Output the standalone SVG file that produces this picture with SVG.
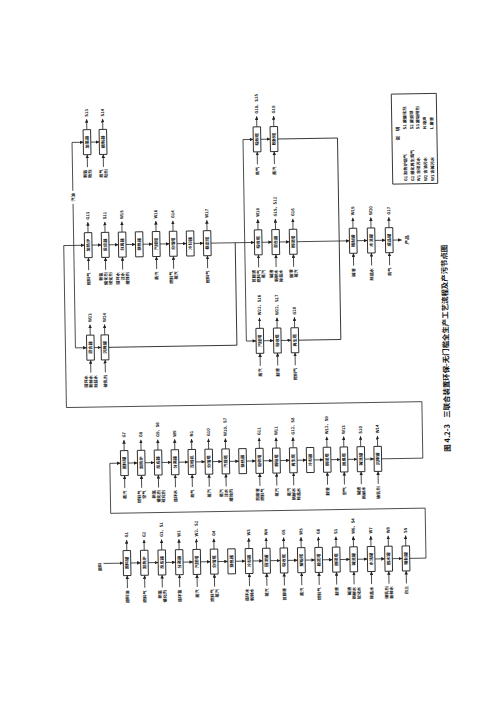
<svg xmlns="http://www.w3.org/2000/svg" width="500" height="707" viewBox="0 0 500 707">
<defs>
<marker id="ah" viewBox="0 0 6 6" refX="6" refY="3" markerWidth="3.6" markerHeight="3.6" markerUnits="userSpaceOnUse" orient="auto"><path d="M0,0L6,3L0,6z" fill="#222"/></marker>
<style>
.bx{fill:#fff;stroke:#1a1a1a;stroke-width:0.9}
.ln{fill:none;stroke:#222;stroke-width:0.9}
.ar{fill:none;stroke:#222;stroke-width:0.8;marker-end:url(#ah)}
text{font-family:"Noto Sans CJK SC","Noto Sans CJK JP",sans-serif;fill:#111;font-weight:700;font-size:4.2px}
.bt{text-anchor:middle}
.ot{text-anchor:start}
.it{text-anchor:end}
.lg{text-anchor:start}
</style>
</defs>
<rect width="500" height="707" fill="#fff"/>
<g transform="rotate(-0.95 250 350)">
<g id="connectors">
<!-- row G -->
<path class="ar" d="M100,561H119.75"/>
<path class="ar" d="M127.25,561H137.15"/><path class="ar" d="M144.65,561H154.65"/><path class="ar" d="M162.15,561H172.05"/><path class="ar" d="M179.55,561H189.55"/><path class="ar" d="M197.05,561H206.95"/><path class="ar" d="M214.45,561H224.35"/><path class="ar" d="M231.85,561H241.85"/><path class="ar" d="M249.35,561H259.25"/><path class="ar" d="M266.75,561H276.75"/><path class="ar" d="M284.25,561H294.15"/><path class="ar" d="M301.65,561H311.55"/><path class="ar" d="M319.05,561H329.05"/><path class="ar" d="M336.55,561H346.45"/><path class="ar" d="M353.95,561H363.95"/><path class="ar" d="M371.45,561H381.35"/><path class="ar" d="M388.85,561H398.75"/>
<path class="ar" d="M406.25,561H422.5V511H108V461H118.75"/>
<!-- row F -->
<path class="ar" d="M126.25,461H135.65"/><path class="ar" d="M143.15,461H152.55"/><path class="ar" d="M160.05,461H169.45"/><path class="ar" d="M176.95,461H186.35"/><path class="ar" d="M193.85,461H203.25"/><path class="ar" d="M210.75,461H220.15"/><path class="ar" d="M227.65,461H237.05"/><path class="ar" d="M244.55,461H253.95"/><path class="ar" d="M261.45,461H270.85"/><path class="ar" d="M278.35,461H287.75"/><path class="ar" d="M295.25,461H304.65"/><path class="ar" d="M312.15,461H321.55"/><path class="ar" d="M329.05,461H338.45"/><path class="ar" d="M345.95,461H355.35"/><path class="ar" d="M362.85,461H372.25"/>
<path class="ar" d="M379.75,461H421V404.5H65.5V242.5H86.25"/>
<!-- row B -->
<path class="ar" d="M93.75,242.5H103.25"/><path class="ar" d="M110.75,242.5H120.25"/><path class="ar" d="M127.75,242.5H137.25"/><path class="ar" d="M144.75,242.5H154.25"/><path class="ar" d="M161.75,242.5H171.25"/><path class="ar" d="M178.75,242.5H188.25"/><path class="ar" d="M195.75,242.5H205.25"/>
<path class="ar" d="M212.75,242.5H256.25"/>
<path class="ar" d="M263.75,242.5H273.75"/><path class="ar" d="M281.25,242.5H291.25"/>
<path class="ar" d="M298.75,242.5H351.25"/>
<path class="ar" d="M358.75,242.5H369.25"/><path class="ar" d="M376.75,242.5H387.25"/>
<path class="ar" d="M394.75,242.5H403.5"/>
<!-- row A -->
<path class="ar" d="M75.5,242.5V201M75.5,188V139.5H86.75"/>
<path class="ar" d="M94.25,139.5H102.75"/>
<!-- row E -->
<path class="ar" d="M75.5,242.5V345H86.75"/>
<path class="ar" d="M94.25,345H101.25"/>
<path class="ln" d="M108.75,345H237V242.5"/>
<!-- row C -->
<path class="ar" d="M246.5,242.5V139.5H256.75"/>
<path class="ar" d="M264.25,139.5H273.75"/>
<path class="ln" d="M281.25,139.5H341V242.5"/>
<!-- row D -->
<path class="ar" d="M246.5,242.5V341H256.25"/>
<path class="ar" d="M263.75,341H273.75"/><path class="ar" d="M281.25,341H291.25"/>
<path class="ln" d="M298.75,341H341V242.5"/>
<!-- output / input arrows row G -->
<line class="ar" x1="123.5" y1="548.5" x2="123.5" y2="538"/><line class="ar" x1="123.5" y1="586" x2="123.5" y2="573.5"/>
<line class="ar" x1="140.9" y1="548.5" x2="140.9" y2="538"/><line class="ar" x1="140.9" y1="586" x2="140.9" y2="573.5"/>
<line class="ar" x1="158.4" y1="548.5" x2="158.4" y2="538"/><line class="ar" x1="158.4" y1="586" x2="158.4" y2="573.5"/>
<line class="ar" x1="175.8" y1="548.5" x2="175.8" y2="538"/><line class="ar" x1="175.8" y1="586" x2="175.8" y2="573.5"/>
<line class="ar" x1="193.3" y1="548.5" x2="193.3" y2="538"/><line class="ar" x1="193.3" y1="586" x2="193.3" y2="573.5"/>
<line class="ar" x1="210.7" y1="548.5" x2="210.7" y2="538"/><line class="ar" x1="210.7" y1="586" x2="210.7" y2="573.5"/>
<line class="ar" x1="245.6" y1="548.5" x2="245.6" y2="538"/><line class="ar" x1="245.6" y1="586" x2="245.6" y2="573.5"/>
<line class="ar" x1="263" y1="548.5" x2="263" y2="538"/><line class="ar" x1="263" y1="586" x2="263" y2="573.5"/>
<line class="ar" x1="280.5" y1="548.5" x2="280.5" y2="538"/><line class="ar" x1="280.5" y1="586" x2="280.5" y2="573.5"/>
<line class="ar" x1="297.9" y1="548.5" x2="297.9" y2="538"/><line class="ar" x1="297.9" y1="586" x2="297.9" y2="573.5"/>
<line class="ar" x1="315.3" y1="548.5" x2="315.3" y2="538"/><line class="ar" x1="315.3" y1="586" x2="315.3" y2="573.5"/>
<line class="ar" x1="332.8" y1="548.5" x2="332.8" y2="538"/><line class="ar" x1="332.8" y1="586" x2="332.8" y2="573.5"/>
<line class="ar" x1="350.2" y1="548.5" x2="350.2" y2="538"/><line class="ar" x1="350.2" y1="586" x2="350.2" y2="573.5"/>
<line class="ar" x1="367.7" y1="548.5" x2="367.7" y2="538"/><line class="ar" x1="367.7" y1="586" x2="367.7" y2="573.5"/>
<line class="ar" x1="385.1" y1="548.5" x2="385.1" y2="538"/><line class="ar" x1="385.1" y1="586" x2="385.1" y2="573.5"/>
<line class="ar" x1="402.5" y1="548.5" x2="402.5" y2="538"/><line class="ar" x1="402.5" y1="586" x2="402.5" y2="573.5"/>
<!-- row F -->
<line class="ar" x1="122.5" y1="448.5" x2="122.5" y2="438"/><line class="ar" x1="122.5" y1="486" x2="122.5" y2="473.5"/>
<line class="ar" x1="139.4" y1="448.5" x2="139.4" y2="438"/><line class="ar" x1="139.4" y1="486" x2="139.4" y2="473.5"/>
<line class="ar" x1="156.3" y1="448.5" x2="156.3" y2="438"/><line class="ar" x1="156.3" y1="486" x2="156.3" y2="473.5"/>
<line class="ar" x1="173.2" y1="448.5" x2="173.2" y2="438"/><line class="ar" x1="173.2" y1="486" x2="173.2" y2="473.5"/>
<line class="ar" x1="190.1" y1="448.5" x2="190.1" y2="438"/><line class="ar" x1="190.1" y1="486" x2="190.1" y2="473.5"/>
<line class="ar" x1="207" y1="448.5" x2="207" y2="438"/><line class="ar" x1="207" y1="486" x2="207" y2="473.5"/>
<line class="ar" x1="223.9" y1="448.5" x2="223.9" y2="438"/><line class="ar" x1="223.9" y1="486" x2="223.9" y2="473.5"/>
<line class="ar" x1="257.7" y1="448.5" x2="257.7" y2="438"/><line class="ar" x1="257.7" y1="486" x2="257.7" y2="473.5"/>
<line class="ar" x1="274.6" y1="448.5" x2="274.6" y2="438"/><line class="ar" x1="274.6" y1="486" x2="274.6" y2="473.5"/>
<line class="ar" x1="291.5" y1="448.5" x2="291.5" y2="438"/><line class="ar" x1="291.5" y1="486" x2="291.5" y2="473.5"/>
<line class="ar" x1="325.3" y1="448.5" x2="325.3" y2="438"/><line class="ar" x1="325.3" y1="486" x2="325.3" y2="473.5"/>
<line class="ar" x1="342.2" y1="448.5" x2="342.2" y2="438"/><line class="ar" x1="342.2" y1="486" x2="342.2" y2="473.5"/>
<line class="ar" x1="359.1" y1="448.5" x2="359.1" y2="438"/><line class="ar" x1="359.1" y1="486" x2="359.1" y2="473.5"/>
<line class="ar" x1="376" y1="448.5" x2="376" y2="438"/><line class="ar" x1="376" y1="486" x2="376" y2="473.5"/>
<!-- row B -->
<line class="ar" x1="90" y1="230" x2="90" y2="219.5"/><line class="ar" x1="90" y1="267.5" x2="90" y2="255"/>
<line class="ar" x1="107" y1="230" x2="107" y2="219.5"/><line class="ar" x1="107" y1="267.5" x2="107" y2="255"/>
<line class="ar" x1="124" y1="230" x2="124" y2="219.5"/><line class="ar" x1="124" y1="267.5" x2="124" y2="255"/>
<line class="ar" x1="158" y1="230" x2="158" y2="219.5"/><line class="ar" x1="158" y1="267.5" x2="158" y2="255"/>
<line class="ar" x1="175" y1="230" x2="175" y2="219.5"/><line class="ar" x1="175" y1="267.5" x2="175" y2="255"/>
<line class="ar" x1="209" y1="230" x2="209" y2="219.5"/><line class="ar" x1="209" y1="267.5" x2="209" y2="255"/>
<line class="ar" x1="260" y1="230" x2="260" y2="219.5"/><line class="ar" x1="260" y1="267.5" x2="260" y2="255"/>
<line class="ar" x1="277.5" y1="230" x2="277.5" y2="219.5"/><line class="ar" x1="277.5" y1="267.5" x2="277.5" y2="255"/>
<line class="ar" x1="295" y1="230" x2="295" y2="219.5"/><line class="ar" x1="295" y1="267.5" x2="295" y2="255"/>
<line class="ar" x1="355" y1="230" x2="355" y2="219.5"/><line class="ar" x1="355" y1="267.5" x2="355" y2="255"/>
<line class="ar" x1="373" y1="230" x2="373" y2="219.5"/><line class="ar" x1="373" y1="267.5" x2="373" y2="255"/>
<line class="ar" x1="391" y1="230" x2="391" y2="219.5"/><line class="ar" x1="391" y1="267.5" x2="391" y2="255"/>
<!-- row A, C -->
<line class="ar" x1="90.5" y1="127" x2="90.5" y2="116.5"/><line class="ar" x1="90.5" y1="164.5" x2="90.5" y2="152"/>
<line class="ar" x1="106.5" y1="127" x2="106.5" y2="116.5"/><line class="ar" x1="106.5" y1="164.5" x2="106.5" y2="152"/>
<line class="ar" x1="260.5" y1="127" x2="260.5" y2="116.5"/><line class="ar" x1="260.5" y1="164.5" x2="260.5" y2="152"/>
<line class="ar" x1="277.5" y1="127" x2="277.5" y2="116.5"/><line class="ar" x1="277.5" y1="164.5" x2="277.5" y2="152"/>
<!-- row D -->
<line class="ar" x1="260" y1="328.5" x2="260" y2="318"/><line class="ar" x1="260" y1="366" x2="260" y2="353.5"/>
<line class="ar" x1="277.5" y1="328.5" x2="277.5" y2="318"/><line class="ar" x1="277.5" y1="366" x2="277.5" y2="353.5"/>
<line class="ar" x1="295" y1="328.5" x2="295" y2="318"/><line class="ar" x1="295" y1="366" x2="295" y2="353.5"/>
<!-- row E -->
<line class="ar" x1="90.5" y1="332.5" x2="90.5" y2="322"/><line class="ar" x1="90.5" y1="370" x2="90.5" y2="357.5"/>
<line class="ar" x1="105" y1="332.5" x2="105" y2="322"/><line class="ar" x1="105" y1="370" x2="105" y2="357.5"/>
</g>

<!-- flow labels -->
<text class="bt" transform="translate(98,564.5) rotate(-90)">原料</text>
<text class="bt" transform="translate(77.3,194.5) rotate(-90)">汽油</text>
<text class="bt" transform="translate(410.5,242.5) rotate(-90)" style="font-size:4.6px">产品</text>

<!-- row G nodes -->
<g id="G01"><rect class="bx" x="119.75" y="548.5" width="7.5" height="25"/><text class="bt" transform="translate(125,561) rotate(-90)">原料罐</text><text class="ot" transform="translate(125,535.5) rotate(-90)">G1</text><text class="it" transform="translate(125,588.5) rotate(-90)">原料油</text></g>
<g id="G02"><rect class="bx" x="137.15" y="548.5" width="7.5" height="25"/><text class="bt" transform="translate(142.4,561) rotate(-90)">加热炉</text><text class="ot" transform="translate(142.4,535.5) rotate(-90)">G2</text><text class="it" transform="translate(142.4,588.5) rotate(-90)">燃料气</text></g>
<g id="G03"><rect class="bx" x="154.65" y="548.5" width="7.5" height="25"/><text class="bt" transform="translate(159.9,561) rotate(-90)">反应器</text><text class="ot" transform="translate(159.9,535.5) rotate(-90)">G3、S1</text><text class="it" transform="translate(157.5,588.5) rotate(-90)"><tspan x="0">新氢</tspan><tspan x="0" dy="4.8">催化剂</tspan></text></g>
<g id="G04"><rect class="bx" x="172.05" y="548.5" width="7.5" height="25"/><text class="bt" transform="translate(177.3,561) rotate(-90)">分离器</text><text class="ot" transform="translate(177.3,535.5) rotate(-90)">W1</text><text class="it" transform="translate(177.3,588.5) rotate(-90)">循环氢</text></g>
<g id="G05"><rect class="bx" x="189.55" y="548.5" width="7.5" height="25"/><text class="bt" transform="translate(194.8,561) rotate(-90)">汽提塔</text><text class="ot" transform="translate(194.8,535.5) rotate(-90)">W2、S2</text><text class="it" transform="translate(194.8,588.5) rotate(-90)">蒸汽</text></g>
<g id="G06"><rect class="bx" x="206.95" y="548.5" width="7.5" height="25"/><text class="bt" transform="translate(212.2,561) rotate(-90)">分馏塔</text><text class="ot" transform="translate(212.2,535.5) rotate(-90)">G4</text><text class="it" transform="translate(209.8,588.5) rotate(-90)"><tspan x="0">燃料气</tspan><tspan x="0" dy="4.8">蒸汽</tspan></text></g>
<g id="G07"><rect class="bx" x="224.35" y="548.5" width="7.5" height="25"/><text class="bt" transform="translate(229.6,561) rotate(-90)">换热器</text></g>
<g id="G08"><rect class="bx" x="241.85" y="548.5" width="7.5" height="25"/><text class="bt" transform="translate(247.1,561) rotate(-90)">冷却器</text><text class="ot" transform="translate(247.1,535.5) rotate(-90)">W3</text><text class="it" transform="translate(244.7,588.5) rotate(-90)"><tspan x="0">循环水</tspan><tspan x="0" dy="4.8">新鲜水</tspan></text></g>
<g id="G09"><rect class="bx" x="259.25" y="548.5" width="7.5" height="25"/><text class="bt" transform="translate(264.5,561) rotate(-90)">回流罐</text><text class="ot" transform="translate(264.5,535.5) rotate(-90)">W4</text><text class="it" transform="translate(264.5,588.5) rotate(-90)">蒸汽</text></g>
<g id="G10"><rect class="bx" x="276.75" y="548.5" width="7.5" height="25"/><text class="bt" transform="translate(282,561) rotate(-90)">吸收塔</text><text class="ot" transform="translate(282,535.5) rotate(-90)">G5</text><text class="it" transform="translate(282,588.5) rotate(-90)">贫胺液</text></g>
<g id="G11"><rect class="bx" x="294.15" y="548.5" width="7.5" height="25"/><text class="bt" transform="translate(299.4,561) rotate(-90)">解吸塔</text><text class="ot" transform="translate(299.4,535.5) rotate(-90)">W5</text><text class="it" transform="translate(299.4,588.5) rotate(-90)">蒸汽</text></g>
<g id="G12"><rect class="bx" x="311.55" y="548.5" width="7.5" height="25"/><text class="bt" transform="translate(316.8,561) rotate(-90)">稳定塔</text><text class="ot" transform="translate(316.8,535.5) rotate(-90)">G6</text><text class="it" transform="translate(316.8,588.5) rotate(-90)">燃料气</text></g>
<g id="G13"><rect class="bx" x="329.05" y="548.5" width="7.5" height="25"/><text class="bt" transform="translate(334.3,561) rotate(-90)">脱硫塔</text><text class="ot" transform="translate(334.3,535.5) rotate(-90)">S3</text><text class="it" transform="translate(334.3,588.5) rotate(-90)">胺液</text></g>
<g id="G14"><rect class="bx" x="346.45" y="548.5" width="7.5" height="25"/><text class="bt" transform="translate(351.7,561) rotate(-90)">碱洗罐</text><text class="ot" transform="translate(351.7,535.5) rotate(-90)">W6、S4</text><text class="it" transform="translate(346.9,588.5) rotate(-90)"><tspan x="0">碱液</tspan><tspan x="0" dy="4.8">新鲜水</tspan><tspan x="0" dy="4.8">软化水</tspan></text></g>
<g id="G15"><rect class="bx" x="363.95" y="548.5" width="7.5" height="25"/><text class="bt" transform="translate(369.2,561) rotate(-90)">水洗罐</text><text class="ot" transform="translate(369.2,535.5) rotate(-90)">W7</text><text class="it" transform="translate(369.2,588.5) rotate(-90)">除盐水</text></g>
<g id="G16"><rect class="bx" x="381.35" y="548.5" width="7.5" height="25"/><text class="bt" transform="translate(386.6,561) rotate(-90)">脱水罐</text><text class="ot" transform="translate(386.6,535.5) rotate(-90)">W8</text><text class="it" transform="translate(384.2,588.5) rotate(-90)"><tspan x="0">破乳剂</tspan><tspan x="0" dy="4.8">新鲜水</tspan></text></g>
<g id="G17"><rect class="bx" x="398.75" y="548.5" width="7.5" height="25"/><text class="bt" transform="translate(404,561) rotate(-90)">精制罐</text><text class="ot" transform="translate(404,535.5) rotate(-90)">S5</text><text class="it" transform="translate(404,588.5) rotate(-90)">白土</text></g>

<!-- row F nodes -->
<g id="F01"><rect class="bx" x="118.75" y="448.5" width="7.5" height="25"/><text class="bt" transform="translate(124,461) rotate(-90)">原料罐</text><text class="ot" transform="translate(124,435.5) rotate(-90)">G7</text><text class="it" transform="translate(124,488.5) rotate(-90)">蒸汽</text></g>
<g id="F02"><rect class="bx" x="135.65" y="448.5" width="7.5" height="25"/><text class="bt" transform="translate(140.9,461) rotate(-90)">加热炉</text><text class="ot" transform="translate(140.9,435.5) rotate(-90)">G8</text><text class="it" transform="translate(138.5,488.5) rotate(-90)"><tspan x="0">燃料气</tspan><tspan x="0" dy="4.8">空气</tspan></text></g>
<g id="F03"><rect class="bx" x="152.55" y="448.5" width="7.5" height="25"/><text class="bt" transform="translate(157.8,461) rotate(-90)">反应器</text><text class="ot" transform="translate(157.8,435.5) rotate(-90)">G9、S6</text><text class="it" transform="translate(153,488.5) rotate(-90)"><tspan x="0">新氢</tspan><tspan x="0" dy="4.8">催化剂</tspan><tspan x="0" dy="4.8">硫化剂</tspan></text></g>
<g id="F04"><rect class="bx" x="169.45" y="448.5" width="7.5" height="25"/><text class="bt" transform="translate(174.7,461) rotate(-90)">分离器</text><text class="ot" transform="translate(174.7,435.5) rotate(-90)">W9</text><text class="it" transform="translate(174.7,488.5) rotate(-90)">循环水</text></g>
<g id="F05"><rect class="bx" x="186.35" y="448.5" width="7.5" height="25"/><text class="bt" transform="translate(191.6,461) rotate(-90)">压缩机</text><text class="ot" transform="translate(191.6,435.5) rotate(-90)">N1</text><text class="it" transform="translate(191.6,488.5) rotate(-90)">氮气</text></g>
<g id="F06"><rect class="bx" x="203.25" y="448.5" width="7.5" height="25"/><text class="bt" transform="translate(208.5,461) rotate(-90)">分馏塔</text><text class="ot" transform="translate(208.5,435.5) rotate(-90)">G10</text><text class="it" transform="translate(208.5,488.5) rotate(-90)">蒸汽</text></g>
<g id="F07"><rect class="bx" x="220.15" y="448.5" width="7.5" height="25"/><text class="bt" transform="translate(225.4,461) rotate(-90)">汽提塔</text><text class="ot" transform="translate(225.4,435.5) rotate(-90)">W10、S7</text><text class="it" transform="translate(220.6,488.5) rotate(-90)"><tspan x="0">蒸汽</tspan><tspan x="0" dy="4.8">注水</tspan><tspan x="0" dy="4.8">缓蚀剂</tspan></text></g>
<g id="F08"><rect class="bx" x="237.05" y="448.5" width="7.5" height="25"/><text class="bt" transform="translate(242.3,461) rotate(-90)">换热器</text></g>
<g id="F09"><rect class="bx" x="253.95" y="448.5" width="7.5" height="25"/><text class="bt" transform="translate(259.2,461) rotate(-90)">吸收塔</text><text class="ot" transform="translate(259.2,435.5) rotate(-90)">G11</text><text class="it" transform="translate(256.8,488.5) rotate(-90)"><tspan x="0">贫胺液</tspan><tspan x="0" dy="4.8">燃料气</tspan></text></g>
<g id="F10"><rect class="bx" x="270.85" y="448.5" width="7.5" height="25"/><text class="bt" transform="translate(276.1,461) rotate(-90)">解吸塔</text><text class="ot" transform="translate(276.1,435.5) rotate(-90)">W11</text><text class="it" transform="translate(276.1,488.5) rotate(-90)">蒸汽</text></g>
<g id="F11"><rect class="bx" x="287.75" y="448.5" width="7.5" height="25"/><text class="bt" transform="translate(293,461) rotate(-90)">再生塔</text><text class="ot" transform="translate(293,435.5) rotate(-90)">G12、S8</text><text class="it" transform="translate(288.2,488.5) rotate(-90)"><tspan x="0">蒸汽</tspan><tspan x="0" dy="4.8">新鲜水</tspan><tspan x="0" dy="4.8">除盐水</tspan></text></g>
<g id="F12"><rect class="bx" x="304.65" y="448.5" width="7.5" height="25"/><text class="bt" transform="translate(309.9,461) rotate(-90)">冷却器</text></g>
<g id="F13"><rect class="bx" x="321.55" y="448.5" width="7.5" height="25"/><text class="bt" transform="translate(326.8,461) rotate(-90)">脱硫塔</text><text class="ot" transform="translate(326.8,435.5) rotate(-90)">W12、S9</text><text class="it" transform="translate(326.8,488.5) rotate(-90)">胺液</text></g>
<g id="F14"><rect class="bx" x="338.45" y="448.5" width="7.5" height="25"/><text class="bt" transform="translate(343.7,461) rotate(-90)">脱臭塔</text><text class="ot" transform="translate(343.7,435.5) rotate(-90)">W13</text><text class="it" transform="translate(343.7,488.5) rotate(-90)">空气</text></g>
<g id="F15"><rect class="bx" x="355.35" y="448.5" width="7.5" height="25"/><text class="bt" transform="translate(360.6,461) rotate(-90)">碱洗罐</text><text class="ot" transform="translate(360.6,435.5) rotate(-90)">S10</text><text class="it" transform="translate(358.2,488.5) rotate(-90)"><tspan x="0">碱液</tspan><tspan x="0" dy="4.8">新鲜水</tspan></text></g>
<g id="F16"><rect class="bx" x="372.25" y="448.5" width="7.5" height="25"/><text class="bt" transform="translate(377.5,461) rotate(-90)">沉降罐</text><text class="ot" transform="translate(377.5,435.5) rotate(-90)">W14</text><text class="it" transform="translate(377.5,488.5) rotate(-90)">破乳剂</text></g>

<!-- row B nodes -->
<g id="B01"><rect class="bx" x="86.25" y="230" width="7.5" height="25"/><text class="bt" transform="translate(91.5,242.5) rotate(-90)">加热炉</text><text class="ot" transform="translate(91.5,217) rotate(-90)">G13</text><text class="it" transform="translate(91.5,270) rotate(-90)">燃料气</text></g>
<g id="B02"><rect class="bx" x="103.25" y="230" width="7.5" height="25"/><text class="bt" transform="translate(108.5,242.5) rotate(-90)">反应器</text><text class="ot" transform="translate(108.5,217) rotate(-90)">S11</text><text class="it" transform="translate(103.7,270) rotate(-90)"><tspan x="0">新氢</tspan><tspan x="0" dy="4.8">催化剂</tspan><tspan x="0" dy="4.8">硫化剂</tspan></text></g>
<g id="B03"><rect class="bx" x="120.25" y="230" width="7.5" height="25"/><text class="bt" transform="translate(125.5,242.5) rotate(-90)">分离器</text><text class="ot" transform="translate(125.5,217) rotate(-90)">W15</text><text class="it" transform="translate(120.7,270) rotate(-90)"><tspan x="0">循环水</tspan><tspan x="0" dy="4.8">注水</tspan><tspan x="0" dy="4.8">缓蚀剂</tspan></text></g>
<g id="B04"><rect class="bx" x="137.25" y="230" width="7.5" height="25"/><text class="bt" transform="translate(142.5,242.5) rotate(-90)">换热器</text></g>
<g id="B05"><rect class="bx" x="154.25" y="230" width="7.5" height="25"/><text class="bt" transform="translate(159.5,242.5) rotate(-90)">汽提塔</text><text class="ot" transform="translate(159.5,217) rotate(-90)">W16</text><text class="it" transform="translate(159.5,270) rotate(-90)">蒸汽</text></g>
<g id="B06"><rect class="bx" x="171.25" y="230" width="7.5" height="25"/><text class="bt" transform="translate(176.5,242.5) rotate(-90)">分馏塔</text><text class="ot" transform="translate(176.5,217) rotate(-90)">G14</text><text class="it" transform="translate(174.1,270) rotate(-90)"><tspan x="0">燃料气</tspan><tspan x="0" dy="4.8">蒸汽</tspan></text></g>
<g id="B07"><rect class="bx" x="188.25" y="230" width="7.5" height="25"/><text class="bt" transform="translate(193.5,242.5) rotate(-90)">冷却器</text></g>
<g id="B08"><rect class="bx" x="205.25" y="230" width="7.5" height="25"/><text class="bt" transform="translate(210.5,242.5) rotate(-90)">稳定塔</text><text class="ot" transform="translate(210.5,217) rotate(-90)">W17</text><text class="it" transform="translate(210.5,270) rotate(-90)">燃料气</text></g>
<g id="B09"><rect class="bx" x="256.25" y="230" width="7.5" height="25"/><text class="bt" transform="translate(261.5,242.5) rotate(-90)">吸收塔</text><text class="ot" transform="translate(261.5,217) rotate(-90)">W18</text><text class="it" transform="translate(256.7,270) rotate(-90)"><tspan x="0">贫胺液</tspan><tspan x="0" dy="4.8">燃料气</tspan><tspan x="0" dy="4.8">蒸汽</tspan></text></g>
<g id="B10"><rect class="bx" x="273.75" y="230" width="7.5" height="25"/><text class="bt" transform="translate(279,242.5) rotate(-90)">混合器</text><text class="ot" transform="translate(279,217) rotate(-90)">G15、S12</text><text class="it" transform="translate(274.2,270) rotate(-90)"><tspan x="0">碱液</tspan><tspan x="0" dy="4.8">新鲜水</tspan><tspan x="0" dy="4.8">除盐水</tspan></text></g>
<g id="B11"><rect class="bx" x="291.25" y="230" width="7.5" height="25"/><text class="bt" transform="translate(296.5,242.5) rotate(-90)">脱硫塔</text><text class="ot" transform="translate(296.5,217) rotate(-90)">G16</text><text class="it" transform="translate(294.1,270) rotate(-90)"><tspan x="0">胺液</tspan><tspan x="0" dy="4.8">蒸汽</tspan></text></g>
<g id="B12"><rect class="bx" x="351.25" y="230" width="7.5" height="25"/><text class="bt" transform="translate(356.5,242.5) rotate(-90)">精制罐</text><text class="ot" transform="translate(356.5,217) rotate(-90)">W19</text><text class="it" transform="translate(356.5,270) rotate(-90)">碱液</text></g>
<g id="B13"><rect class="bx" x="369.25" y="230" width="7.5" height="25"/><text class="bt" transform="translate(374.5,242.5) rotate(-90)">水洗罐</text><text class="ot" transform="translate(374.5,217) rotate(-90)">W20</text><text class="it" transform="translate(374.5,270) rotate(-90)">除盐水</text></g>
<g id="B14"><rect class="bx" x="387.25" y="230" width="7.5" height="25"/><text class="bt" transform="translate(392.5,242.5) rotate(-90)">成品罐</text><text class="ot" transform="translate(392.5,217) rotate(-90)">G17</text><text class="it" transform="translate(392.5,270) rotate(-90)">氮气</text></g>

<!-- row A nodes -->
<g id="A01"><rect class="bx" x="86.75" y="127" width="7.5" height="25"/><text class="bt" transform="translate(92,139.5) rotate(-90)">加氢器</text><text class="ot" transform="translate(92,114) rotate(-90)">S13</text><text class="it" transform="translate(89.6,167) rotate(-90)"><tspan x="0">新氢</tspan><tspan x="0" dy="4.8">助剂</tspan></text></g>
<g id="A02"><rect class="bx" x="102.75" y="127" width="7.5" height="25"/><text class="bt" transform="translate(108,139.5) rotate(-90)">精制器</text><text class="ot" transform="translate(108,114) rotate(-90)">S14</text><text class="it" transform="translate(105.6,167) rotate(-90)"><tspan x="0">氮气</tspan><tspan x="0" dy="4.8">助剂</tspan></text></g>

<!-- row C nodes -->
<g id="C01"><rect class="bx" x="256.75" y="127" width="7.5" height="25"/><text class="bt" transform="translate(262,139.5) rotate(-90)">吸附塔</text><text class="ot" transform="translate(262,114) rotate(-90)">G18、S15</text><text class="it" transform="translate(262,167) rotate(-90)">氮气</text></g>
<g id="C02"><rect class="bx" x="273.75" y="127" width="7.5" height="25"/><text class="bt" transform="translate(279,139.5) rotate(-90)">脱附塔</text><text class="ot" transform="translate(279,114) rotate(-90)">G19</text><text class="it" transform="translate(279,167) rotate(-90)">蒸汽</text></g>

<!-- row D nodes -->
<g id="D01"><rect class="bx" x="256.25" y="328.5" width="7.5" height="25"/><text class="bt" transform="translate(261.5,341) rotate(-90)">汽提塔</text><text class="ot" transform="translate(261.5,315.5) rotate(-90)">W21、S16</text><text class="it" transform="translate(261.5,368.5) rotate(-90)">蒸汽</text></g>
<g id="D02"><rect class="bx" x="273.75" y="328.5" width="7.5" height="25"/><text class="bt" transform="translate(279,341) rotate(-90)">吸收塔</text><text class="ot" transform="translate(279,315.5) rotate(-90)">W22、S17</text><text class="it" transform="translate(279,368.5) rotate(-90)">胺液</text></g>
<g id="D03"><rect class="bx" x="291.25" y="328.5" width="7.5" height="25"/><text class="bt" transform="translate(296.5,341) rotate(-90)">再生塔</text><text class="ot" transform="translate(296.5,315.5) rotate(-90)">G20</text><text class="it" transform="translate(296.5,368.5) rotate(-90)">燃料气</text></g>

<!-- row E nodes -->
<g id="E01"><rect class="bx" x="86.75" y="332.5" width="7.5" height="25"/><text class="bt" transform="translate(92,345) rotate(-90)">混合器</text><text class="ot" transform="translate(92,319.5) rotate(-90)">W23</text><text class="it" transform="translate(87.2,372.5) rotate(-90)"><tspan x="0">循环水</tspan><tspan x="0" dy="4.8">新鲜水</tspan><tspan x="0" dy="4.8">除盐水</tspan></text></g>
<g id="E02"><rect class="bx" x="101.25" y="332.5" width="7.5" height="25"/><text class="bt" transform="translate(106.5,345) rotate(-90)">沉降罐</text><text class="ot" transform="translate(106.5,319.5) rotate(-90)">W24</text><text class="it" transform="translate(106.5,372.5) rotate(-90)">破乳剂</text></g>

<!-- legend -->
<g id="legend">
<rect x="395.5" y="96.5" width="45" height="90" fill="none" stroke="#222" stroke-width="0.9"/>
<text class="bt" transform="translate(403,136) rotate(-90)" style="font-size:4.6px">说　明</text>
<text class="lg" transform="translate(410,184) rotate(-90)">G1 加热炉烟气</text><text class="lg" transform="translate(410,132) rotate(-90)">S1 废催化剂</text>
<text class="lg" transform="translate(417,184) rotate(-90)">G2 催化再生烟气</text><text class="lg" transform="translate(417,132) rotate(-90)">S2 废瓷球</text>
<text class="lg" transform="translate(423,184) rotate(-90)">W1 含硫污水</text><text class="lg" transform="translate(423,132) rotate(-90)">S3 废吸附剂</text>
<text class="lg" transform="translate(430,184) rotate(-90)">W2 含油污水</text><text class="lg" transform="translate(430,132) rotate(-90)">N 噪声</text>
<text class="lg" transform="translate(437,184) rotate(-90)">W3 含碱污水</text><text class="lg" transform="translate(437,132) rotate(-90)">L 废液</text>
</g>

<!-- title -->
<g id="title">
<text transform="translate(448.5,455) rotate(-90)" style="font-size:7.5px">图 4.2-3</text>
<text transform="translate(448.5,421) rotate(-90)" style="font-size:7.5px" textLength="173" lengthAdjust="spacingAndGlyphs">三联合装置环保-无门槛全生产工艺流程及产污节点图</text>
</g>
</g>
</svg>
